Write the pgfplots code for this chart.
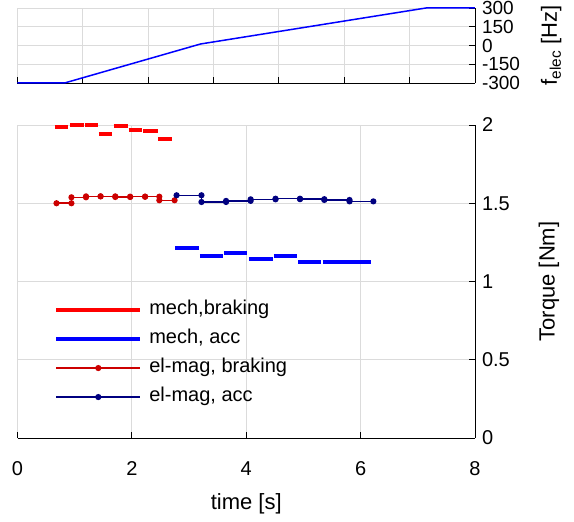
\documentclass[border=0pt]{standalone}
\usepackage{fontspec}
\setmainfont{Liberation Sans}
\usepackage{pgfplots}
\pgfplotsset{compat=1.18}
\definecolor{mred}{rgb}{1,0,0}
\definecolor{mblue}{rgb}{0,0,1}
\definecolor{ered}{rgb}{0.8,0,0}
\definecolor{eblue}{rgb}{0,0,0.5}
\definecolor{gridgray}{gray}{0.86}
\newcommand{\fs}{\fontsize{20}{23}\selectfont}
\newcommand{\ft}{\fontsize{19}{22}\selectfont}
\newcommand{\fl}{\fontsize{22}{25}\selectfont}
\pgfplotsset{
  myaxis/.style={
    scale only axis, width=457.5pt,
    axis x line=bottom, axis y line=right,
    axis line style={-, black, line width=0.9pt},
    tick align=inside, major tick length=6pt,
    tick style={black, line width=0.9pt},
    grid=major, grid style={gridgray, line width=0.9pt},
    ticklabel style={font=\fs},
    yticklabel style={xshift=3.5pt},
    label style={font=\fl},
    clip=false,
  }
}
\begin{document}
\begin{tikzpicture}[x=1pt,y=1pt]
\useasboundingbox (-17.5pt,-84pt) rectangle (556.5pt,438pt);
% bottom axis
\begin{axis}[myaxis, at={(0pt,0pt)}, anchor=south west, height=313pt,
  xmin=0, xmax=8, ymin=0, ymax=2,
  xtick={0,2,4,6,8}, xticklabels={0,2,4,6,8},
  ytick={0,0.5,1,1.5,2}, yticklabels={0,0.5,1,1.5,2},
  xticklabel style={yshift=-20pt},
  xlabel={time [s]}, ylabel={Torque [Nm]},
  xlabel shift=11pt, ylabel shift=22pt,
  unbounded coords=jump,
  legend style={draw=none, fill=none, font=\fs, at={(0.08,0.443)}, anchor=north west,
    inner sep=0pt, row sep=8pt, nodes={text height=13pt, text depth=4pt, inner sep=2pt},
    /tikz/every odd column/.append style={column sep=5pt}},
  legend cell align=left,
  legend image code/.code={\draw[#1, mark repeat=2, mark phase=2] plot coordinates {(0pt,0pt) (42pt,0pt) (84pt,0pt)};},
]
\addplot[mred, line width=4pt, line cap=butt] coordinates {
(0.653,1.989) (0.884,1.989) (0.9,nan)
(0.914,1.998) (1.158,1.998) (1.16,nan)
(1.175,2.000) (1.406,2.000) (1.41,nan)
(1.424,1.943) (1.657,1.943) (1.66,nan)
(1.680,1.994) (1.929,1.994) (1.93,nan)
(1.941,1.966) (2.172,1.966) (2.18,nan)
(2.202,1.962) (2.451,1.962) (2.455,nan)
(2.458,1.911) (2.701,1.911)
};
\addlegendentry{mech,braking}
\addplot[mblue, line width=4pt, line cap=butt] coordinates {
(2.759,1.214) (3.177,1.214) (3.18,nan)
(3.189,1.161) (3.594,1.161) (3.6,nan)
(3.617,1.180) (4.017,1.180) (4.02,nan)
(4.047,1.144) (4.465,1.144) (4.47,nan)
(4.482,1.163) (4.888,1.163) (4.89,nan)
(4.905,1.125) (5.305,1.125) (5.31,nan)
(5.335,1.123) (5.758,1.123) (5.76,nan)
(5.770,1.127) (6.176,1.127)
};
\addlegendentry{mech, acc}
\addplot[ered, line width=1.5pt, mark=*, mark size=2.3pt] coordinates {
(0.682,1.500) (0.943,1.500) (0.943,1.538) (1.198,1.538) (1.198,1.544) (1.453,1.544)
(1.453,1.544) (1.710,1.544) (1.710,1.540) (1.970,1.540) (1.970,1.542) (2.231,1.542)
(2.231,1.542) (2.480,1.542) (2.480,1.519) (2.747,1.519)
};
\addlegendentry{el-mag, braking}
\addplot[eblue, line width=1.5pt, mark=*, mark size=2.3pt] coordinates {
(2.782,1.551) (3.217,1.551) (3.217,1.508) (3.647,1.508) (3.647,1.515) (4.077,1.515)
(4.077,1.525) (4.512,1.525) (4.512,1.529) (4.940,1.529) (4.940,1.526) (5.365,1.526)
(5.365,1.521) (5.806,1.521) (5.806,1.512) (6.223,1.512)
};
\addlegendentry{el-mag, acc}
\end{axis}
% top axis
\begin{axis}[myaxis, at={(0pt,355pt)}, anchor=south west, height=75pt,
  xmin=0, xmax=7, ymin=-300, ymax=300,
  xtick={0,1,2,3,4,5,6,7}, xticklabels={},
  ytick={-300,-150,0,150,300}, yticklabels={-300,-150,0,150,300},
  yticklabel style={font=\ft},
  ylabel={f\textsubscript{elec} [Hz]}, ylabel shift=14pt,
]
\addplot[mblue, line width=1.5pt] coordinates {
(0,-300) (0.72,-300) (2.80,12) (6.25,300) (7,300)
};
\end{axis}
\end{tikzpicture}
\end{document}
